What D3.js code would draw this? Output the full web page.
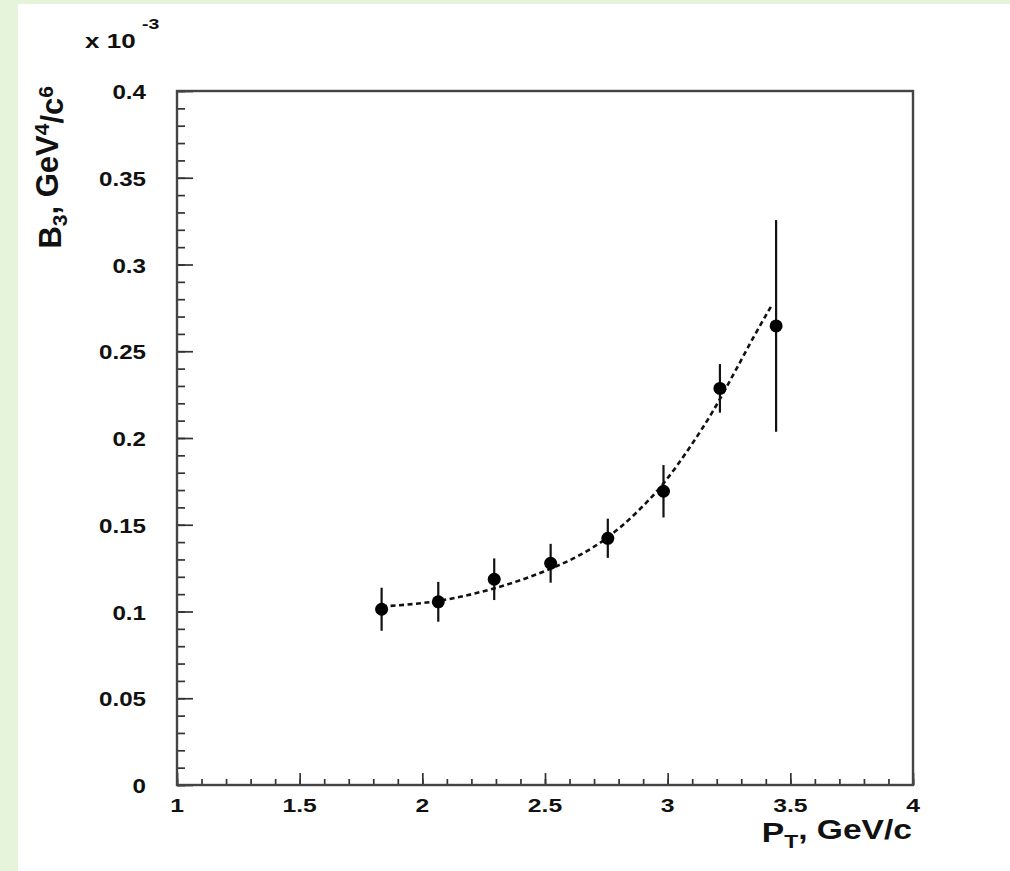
<!DOCTYPE html>
<html>
<head>
<meta charset="utf-8">
<script src="https://cdn.jsdelivr.net/npm/d3@7"></script>
<style>
  body { margin: 0; background: #ffffff; }
  text { font-family: "Liberation Sans", Arial, Helvetica, sans-serif; font-weight: bold; fill: #111; }
  .axisTicks line { stroke: #333; stroke-width: 1.7; }
  .axisTicks path { display: none; }
</style>
</head>
<body>
<div id="chart"></div>
<script>

// measured points : transverse momentum, B3 value and its error (x 10^-3)
var ptValues = [1.834, 2.065, 2.293, 2.523, 2.756, 2.983, 3.213, 3.442];
var b3Values = [0.1013, 0.1056, 0.1186, 0.1278, 0.1422, 0.1693, 0.2286, 0.2646];
var b3Errors = [0.0124, 0.0115, 0.0120, 0.0112, 0.0113, 0.0151, 0.0140, 0.0610];

// dashed fit curve
var fitPt = [1.836, 2.064, 2.292, 2.520, 2.643, 2.757, 2.871, 2.981, 3.091, 3.185, 3.282, 3.348, 3.425];
var fitB3 = [0.1029, 0.1061, 0.1133, 0.1245, 0.1326, 0.1429, 0.1568, 0.1735, 0.1948, 0.2156, 0.2403, 0.2576, 0.2767];

var xTickValues = [1, 1.5, 2, 2.5, 3, 3.5, 4];
var xTickLabels = ["1", "1.5", "2", "2.5", "3", "3.5", "4"];
var yTickValues = [0, 0.05, 0.1, 0.15, 0.2, 0.25, 0.3, 0.35, 0.4];
var yTickLabels = ["0", "0.05", "0.1", "0.15", "0.2", "0.25", "0.3", "0.35", "0.4"];


/************************************************************************************************************/

var width = 1010, height = 871;

var svg = d3.select("#chart").append("svg").attr("width", width).attr("height", height);

svg.margin = {left: 177, right: 97, top: 91, bottom: 86};
svg.width = width - svg.margin.left - svg.margin.right;
svg.height = height - svg.margin.top - svg.margin.bottom;

// page background, green strips on top and left
svg.append("rect").attr("x", 0).attr("y", 0).attr("width", width).attr("height", height).attr("fill", "#ffffff");
svg.append("rect").attr("x", 0).attr("y", 0).attr("width", width).attr("height", 4).attr("fill", "#e7f4dc");
svg.append("rect").attr("x", 0).attr("y", 0).attr("width", 18).attr("height", height).attr("fill", "#e7f4dc");

svg.x = d3.scaleLinear().domain([1, 4]).range([0, svg.width]);
svg.y = d3.scaleLinear().domain([0, 0.4]).range([svg.height, 0]);

svg.chart = svg.append("g").attr("transform", "translate(" + [svg.margin.left, svg.margin.top] + ")");

// ticks pointing inside the frame
svg.chart.append("g").classed("axisTicks", true)
  .call(d3.axisLeft(svg.y).tickValues(svg.y.ticks(40)).tickSize(-8).tickFormat(""));
svg.chart.append("g").classed("axisTicks", true)
  .call(d3.axisLeft(svg.y).tickValues(yTickValues).tickSize(-16).tickFormat(""));

svg.chart.append("g").classed("axisTicks", true)
  .attr("transform", "translate(0," + svg.height + ")")
  .call(d3.axisBottom(svg.x).tickValues(svg.x.ticks(30)).tickSize(-6).tickFormat(""));
svg.chart.append("g").classed("axisTicks", true)
  .attr("transform", "translate(0," + svg.height + ")")
  .call(d3.axisBottom(svg.x).tickValues(xTickValues).tickSize(-12).tickFormat(""));

svg.chart.append("rect")
  .attr("x", 0).attr("y", 0).attr("width", svg.width).attr("height", svg.height)
  .attr("fill", "none").attr("stroke", "#444").attr("stroke-width", 2.4);

// tick labels (font a bit wider than Liberation, hence the scale)
yTickValues.forEach(function (v, i) {
  svg.chart.append("text")
    .attr("transform", "translate(" + [-31, svg.y(v) + 8] + ") scale(1.15,1)")
    .attr("text-anchor", "end").style("font-size", "21px")
    .text(yTickLabels[i]);
});

xTickValues.forEach(function (v, i) {
  svg.chart.append("text")
    .attr("transform", "translate(" + [svg.x(v), svg.height + 27] + ") scale(1.3,1)")
    .attr("text-anchor", "middle").style("font-size", "19px")
    .text(xTickLabels[i]);
});

// exponent above the y axis
svg.append("text").attr("transform", "translate(85,48) scale(1.3,1)").style("font-size", "20px").text("x 10");
svg.append("text").attr("transform", "translate(142,29) scale(1.3,1)").style("font-size", "15px").text("-3");

// axis titles
var yTitle = svg.append("text")
  .attr("transform", "translate(61,86) rotate(-90)")
  .attr("text-anchor", "end").style("font-size", "31px");
yTitle.append("tspan").text("B");
yTitle.append("tspan").attr("dy", "0.3em").style("font-size", "21px").text("3");
yTitle.append("tspan").attr("dy", "-0.3em").text(", GeV");
yTitle.append("tspan").attr("dy", "-0.45em").style("font-size", "21px").text("4");
yTitle.append("tspan").attr("dy", "0.45em").text("/c");
yTitle.append("tspan").attr("dy", "-0.45em").style("font-size", "21px").text("6");

var xTitle = svg.append("text")
  .attr("transform", "translate(912,842) scale(1.2,1)")
  .attr("text-anchor", "end").style("font-size", "28px");
xTitle.append("tspan").text("P");
xTitle.append("tspan").attr("dy", "0.3em").style("font-size", "19px").text("T");
xTitle.append("tspan").attr("dy", "-0.3em").text(", GeV/c");

// fit curve
svg.valueline = d3.line().curve(d3.curveMonotoneX)
  .x(function (d, i) { return svg.x(fitPt[i]); })
  .y(function (d) { return svg.y(d); });

svg.chart.append("path")
  .attr("d", svg.valueline(fitB3))
  .attr("fill", "none").attr("stroke", "#111").attr("stroke-width", 2.6)
  .attr("stroke-dasharray", "5,3.5");

// error bars and markers
var points = svg.chart.append("g");

points.selectAll("line").data(b3Values).enter().append("line")
  .attr("x1", function (d, i) { return svg.x(ptValues[i]); })
  .attr("x2", function (d, i) { return svg.x(ptValues[i]); })
  .attr("y1", function (d, i) { return svg.y(d - b3Errors[i]); })
  .attr("y2", function (d, i) { return svg.y(d + b3Errors[i]); })
  .attr("stroke", "#111").attr("stroke-width", 2.2);

points.selectAll("circle").data(b3Values).enter().append("circle")
  .attr("cx", function (d, i) { return svg.x(ptValues[i]); })
  .attr("cy", function (d) { return svg.y(d); })
  .attr("r", 6.5).attr("fill", "#000");

</script>
</body>
</html>
